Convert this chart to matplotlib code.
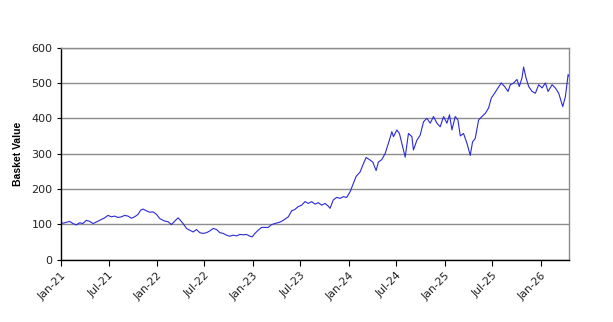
import matplotlib
matplotlib.use("Agg")
import matplotlib.pyplot as plt
import pandas as pd
import numpy as np

# time in years elapsed since 2021-01-01
years_elapsed = [
    0.000, 0.038, 0.090, 0.124, 0.160, 0.194, 0.229, 0.264, 0.299, 0.333,
    0.351, 0.403, 0.455, 0.490, 0.525, 0.560, 0.594, 0.629, 0.664, 0.698,
    0.734, 0.768, 0.803, 0.831, 0.855, 0.890, 0.925, 0.959, 0.995, 1.029,
    1.064, 1.081, 1.116, 1.151, 1.186, 1.220, 1.238, 1.272, 1.308, 1.342,
    1.377, 1.412, 1.447, 1.481, 1.517, 1.551, 1.586, 1.621, 1.656, 1.690,
    1.725, 1.760, 1.794, 1.830, 1.864, 1.899, 1.934, 1.969, 1.993, 2.021,
    2.055, 2.091, 2.125, 2.160, 2.195, 2.230, 2.282, 2.316, 2.369, 2.404,
    2.438, 2.473, 2.508, 2.543, 2.577, 2.613, 2.647, 2.682, 2.717, 2.752,
    2.786, 2.804, 2.838, 2.874, 2.908, 2.943, 2.978, 3.013, 3.047, 3.075,
    3.117, 3.151, 3.180, 3.214, 3.249, 3.284, 3.308, 3.343, 3.378, 3.412,
    3.448, 3.465, 3.500, 3.527, 3.552, 3.587, 3.621, 3.657, 3.673, 3.709,
    3.743, 3.778, 3.813, 3.848, 3.882, 3.918, 3.952, 3.987, 4.022, 4.049,
    4.074, 4.109, 4.137, 4.161, 4.195, 4.231, 4.265, 4.289, 4.317, 4.352,
    4.387, 4.422, 4.456, 4.484, 4.519, 4.554, 4.589, 4.623, 4.659, 4.683,
    4.717, 4.752, 4.776, 4.804, 4.821, 4.847, 4.874, 4.909, 4.944, 4.978,
    5.014, 5.048, 5.076, 5.118, 5.152, 5.187, 5.229, 5.257, 5.285, 5.295,
]
basket_value = [
    102, 104, 108, 102, 98, 104, 102, 111, 108, 102,
    104, 111, 118, 125, 121, 123, 119, 121, 125, 123,
    117, 121, 128, 140, 143, 138, 134, 135, 128, 116,
    111, 109, 107, 99, 109, 118, 113, 102, 88, 83,
    78, 85, 76, 74, 76, 81, 88, 85, 76, 74,
    69, 66, 69, 67, 71, 70, 71, 66, 64, 74,
    83, 91, 91, 91, 99, 102, 106, 111, 121, 138,
    142, 150, 154, 164, 159, 164, 157, 161, 154, 159,
    151, 145, 169, 176, 173, 178, 176, 192, 216, 235,
    248, 271, 289, 283, 276, 252, 276, 283, 300, 329,
    362, 348, 367, 357, 329, 290, 357, 348, 310, 338,
    352, 390, 400, 386, 405, 386, 376, 405, 386, 410,
    367, 405, 395, 350, 357, 329, 295, 333, 343, 395,
    405, 414, 429, 457, 471, 486, 500, 490, 476, 495,
    500, 510, 490, 514, 545, 514, 490, 476, 471, 495,
    486, 500, 476, 495, 486, 471, 433, 462, 524, 519,
]
tick_labels = ["Jan-21", "Jul-21", "Jan-22", "Jul-22", "Jan-23", "Jul-23",
               "Jan-24", "Jul-24", "Jan-25", "Jul-25", "Jan-26"]
y_ticks = [0, 100, 200, 300, 400, 500, 600]

start = pd.Timestamp("2021-01-01")
dates = start + pd.to_timedelta(np.array(years_elapsed) * 365.25, unit="D")
tick_dates = pd.to_datetime(["2021-01-01", "2021-07-01", "2022-01-01", "2022-07-01",
                             "2023-01-01", "2023-07-01", "2024-01-01", "2024-07-01",
                             "2025-01-01", "2025-07-01", "2026-01-01"])

plt.rcParams["font.family"] = ["DejaVu Sans"]

fig = plt.figure(figsize=(6.13, 3.22), dpi=100)
ax = fig.add_axes([0.0995, 0.194, 0.829, 0.658])

ax.plot(dates, basket_value, color="#2a2ad8", linewidth=0.8)

ax.set_ylim(0, 600)
ax.set_yticks(y_ticks)
ax.set_xlim(start, start + pd.Timedelta(days=5.296 * 365.25))
ax.set_xticks(tick_dates)
ax.set_xticklabels(tick_labels, rotation=45, ha="right", rotation_mode="anchor",
                   fontsize=7.8, color="#222222")
ax.tick_params(axis="y", labelsize=8, length=3, color="black", pad=3,
               labelcolor="#222222")
ax.tick_params(axis="x", length=4, color="black", pad=4)

ax.grid(axis="y", color="#8c8c8c", linewidth=1.0)
ax.set_axisbelow(True)
for side in ("top", "right"):
    ax.spines[side].set_color("#8c8c8c")
    ax.spines[side].set_linewidth(1.0)
for side in ("left", "bottom"):
    ax.spines[side].set_color("black")
    ax.spines[side].set_linewidth(1.0)

ax.set_ylabel("Basket Value", fontsize=7.5, fontweight="bold", labelpad=6,
              family=["Liberation Sans", "DejaVu Sans"])

fig.savefig("out.png", dpi=100)
